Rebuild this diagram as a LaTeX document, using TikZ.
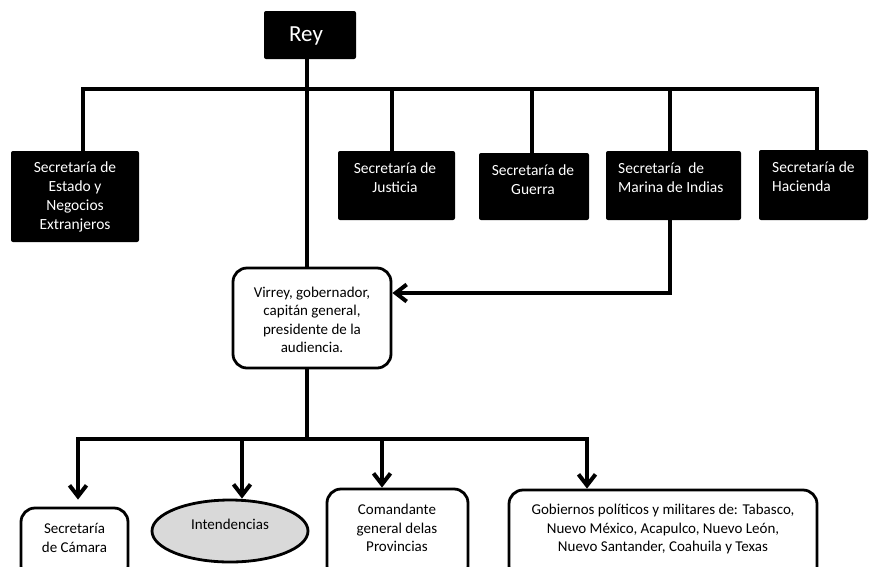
\documentclass[tikz,border=0pt]{standalone}
\usepackage{fontspec}
\setmainfont{Carlito}
\usetikzlibrary{arrows.meta,shapes.geometric}
\definecolor{intgray}{HTML}{D9D9D9}
\begin{document}
\begin{tikzpicture}[x=1pt,y=-1pt,
  bbox/.style={fill=black, rounded corners=2pt, inner sep=0pt},
  wbox/.style={draw=black, fill=white, line width=2.8pt, rounded corners=14pt, inner sep=0pt},
  wtxt/.style={text=white, font=\fontsize{15.5}{19}\selectfont, align=center, inner sep=0pt},
  ktxt/.style={text=black, font=\fontsize{15}{18.5}\selectfont, align=center, inner sep=0pt},
  conn/.style={line width=4pt},
  arr/.style={line width=4pt, -{Straight Barb[length=11pt,width=17pt]}},
]
\useasboundingbox (0,0) rectangle (870,566);
\clip (0,0) rectangle (870,566);

% boxes
\node[bbox, minimum width=92, minimum height=48] (rey) at (310,35) {};
\node[text=white, font=\fontsize{23}{27}\selectfont, inner sep=0pt] (reyt) at (306,36) {Rey};

\node[bbox, minimum width=128, minimum height=91] (estado) at (75,196.5) {};
\node[bbox, minimum width=117, minimum height=69] (justicia) at (396.5,185.5) {};
\node[bbox, minimum width=110, minimum height=67] (guerra) at (534,186.5) {};
\node[bbox, minimum width=135, minimum height=69] (marina) at (673.5,185.5) {};
\node[bbox, minimum width=109, minimum height=70] (hacienda) at (813.5,185) {};

\node[wtxt] (estadot) at (75,197) {Secretaría de\\Estado y\\Negocios\\Extranjeros};
\node[wtxt] (justiciat) at (395,178) {Secretaría de\\Justicia};
\node[wtxt] (guerrat) at (533,180) {Secretaría de\\Guerra};
\node[wtxt, align=left, anchor=west] (marinat) at (618,178) {Secretaría\ \ de\\Marina de Indias};
\node[wtxt, align=left, anchor=west] (haciendat) at (772,177) {Secretaría de\\Hacienda};

\node[wbox, minimum width=158, minimum height=100] (virrey) at (312,318) {};
\node[ktxt] (virreyt) at (312,320) {Virrey, gobernador,\\capitán general,\\presidente de la\\audiencia.};

\node[wbox, minimum width=107, minimum height=72] (secc) at (74.5,544) {};
\node[ktxt] (secct) at (74.5,538) {Secretaría\\de Cámara};

\node[ellipse, draw=black, fill=intgray, line width=2.8pt, minimum width=156, minimum height=62, inner sep=0pt] (intend) at (230,531) {};
\node[ktxt] (intendt) at (230,524) {Intendencias};

\node[wbox, minimum width=141, minimum height=91] (coman) at (397.5,534.5) {};
\node[ktxt] (comant) at (397,528) {Comandante\\general delas\\Provincias};

\node[wbox, minimum width=308, minimum height=90] (gob) at (663,535) {};
\node[ktxt] (gobt) at (663,529) {Gobiernos políticos y militares de: Tabasco,\\Nuevo México, Acapulco, Nuevo León,\\Nuevo Santander, Coahuila y Texas};

% connectors top
\coordinate (jt) at (307,89);
\coordinate (b1) at (83,89);
\coordinate (b2) at (392,89);
\coordinate (b3) at (532,89);
\coordinate (b4) at (670,89);
\coordinate (b5) at (817,89);
\draw[conn] (rey.south -| jt) -- (virrey.north -| jt);
\draw[conn] (b1 |- estado.north) -- (b1) -- (b5) -- (b5 |- hacienda.north);
\draw[conn] (b2) -- (b2 |- justicia.north);
\draw[conn] (b3) -- (b3 |- guerra.north);
\draw[conn] (b4) -- (b4 |- marina.north);

\coordinate (a1) at (670,293);
\draw[arr] (a1 |- marina.south) -- (a1) -- (virrey.east |- a1);

% connectors bottom
\coordinate (jb) at (307,439);
\coordinate (c1) at (78,439);
\coordinate (c2) at (242,439);
\coordinate (c3) at (382,439);
\coordinate (c4) at (587,439);
\draw[conn] (virrey.south -| jb) -- (jb);
\draw[conn, line cap=rect] (c1) -- (c4);
\draw[arr, shorten >=7pt] (c1) -- (c1 |- secc.north);
\draw[arr] (c2) -- (c2 |- intend.north);
\draw[arr] (c3) -- (c3 |- coman.north);
\draw[arr] (c4) -- (c4 |- gob.north);
\end{tikzpicture}
\end{document}
